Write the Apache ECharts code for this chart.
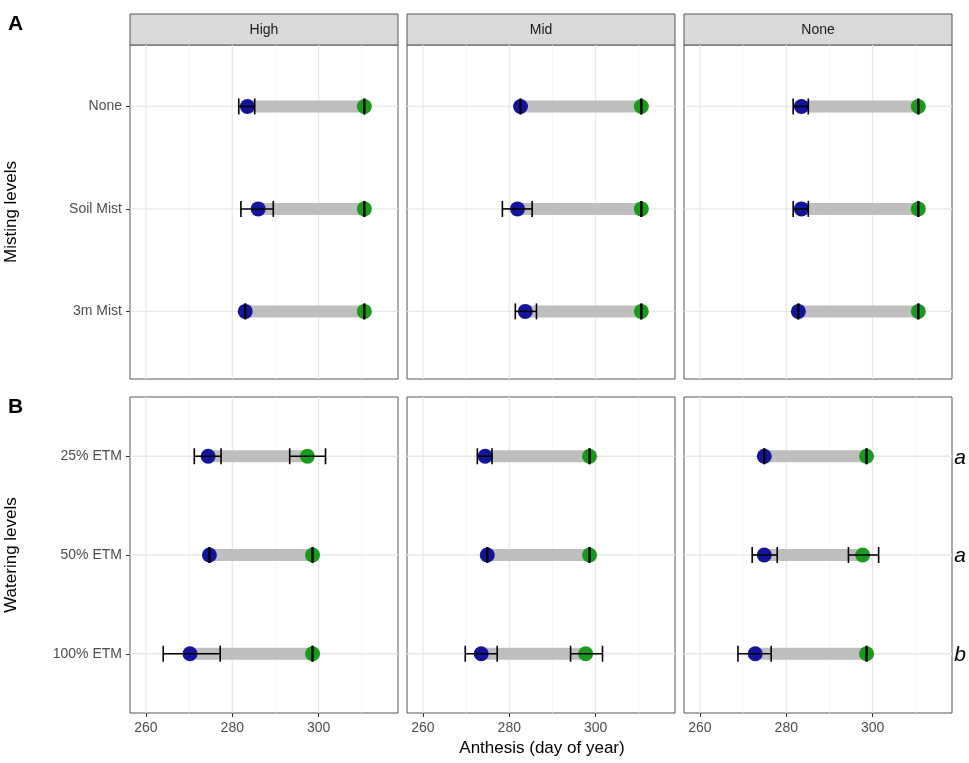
<!DOCTYPE html>
<html><head><meta charset="utf-8">
<script src="https://cdn.jsdelivr.net/npm/echarts@6/dist/echarts.min.js"></script>
<style>html,body{margin:0;padding:0;background:#fff}#c{width:969px;height:763px}</style>
</head><body><div id="c"></div>
<script>
var facets = ['High', 'Mid', 'None'];
var mistLevels = ['None', 'Soil Mist', '3m Mist'];
var waterLevels = ['25% ETM', '50% ETM', '100% ETM'];
var letters = ['a', 'a', 'b'];
// [blue mean, blue lo, blue hi, green mean, green lo, green hi] per level
var mistData = [
	[[283.5,281.5,285.2,310.6,310.5,310.7],[286,282,289.5,310.6,310.5,310.7],[283,282.9,283.1,310.6,310.5,310.7]],
	[[282.6,282.5,282.7,310.6,310.5,310.7],[281.9,278.4,285.3,310.6,310.5,310.7],[283.7,281.4,286.3,310.6,310.5,310.7]],
	[[283.5,281.6,285.1,310.6,310.5,310.7],[283.5,281.6,285.1,310.6,310.5,310.7],[282.8,282.7,282.9,310.6,310.5,310.7]]
];
var waterData = [
	[[274.4,271.2,277.4,297.4,293.3,301.6],[274.7,274.6,274.8,298.6,298.5,298.7],[270.2,264,277.2,298.6,298.5,298.7]],
	[[274.4,272.6,276,298.6,298.5,298.7],[274.9,274.8,275,298.6,298.5,298.7],[273.5,269.8,277.2,297.7,294.2,301.6]],
	[[274.9,274.8,275,298.6,298.5,298.7],[274.9,272.1,277.9,297.7,294.4,301.4],[272.8,268.8,276.5,298.6,298.5,298.7]]
];
var xTicks = [260, 280, 300];
var xMinor = [270, 290, 310];
var yTicks = [1, 2, 3];

var chart = echarts.init(document.getElementById('c'));
var colL = [130, 407, 684], colW = 268;
var rows = [{top: 45, h: 334, data: mistData, cats: mistLevels}, {top: 397, h: 316, data: waterData, cats: waterLevels}];
var grids = [], xAxes = [], yAxes = [], series = [], graphics = [];

rows.forEach(function(row, r){
	facets.forEach(function(f, c){
		var i = grids.length;
		grids.push({left: colL[c], top: row.top, width: colW, height: row.h, show: true, borderColor: '#555', borderWidth: 1, backgroundColor: '#fff'});
		xAxes.push({gridIndex: i, type: 'value', min: 256.3, max: 318.4,
			axisLine: {show: false}, splitLine: {show: false},
			axisTick: {show: r == 1, customValues: xTicks, length: 4, lineStyle: {color: '#333'}},
			axisLabel: {show: r == 1, customValues: xTicks, color: '#4d4d4d', fontSize: 14, fontFamily: 'Arial', margin: 8}});
		yAxes.push({gridIndex: i, type: 'value', min: 0.4, max: r == 0 ? 3.66 : 3.6, inverse: true,
			axisLine: {show: false}, splitLine: {show: false},
			axisTick: {show: c == 0, customValues: yTicks, length: 4, lineStyle: {color: '#333'}},
			axisLabel: {show: c == 0, customValues: yTicks, color: '#4d4d4d', fontSize: 14, fontFamily: 'Arial', formatter: function(v){ return row.cats[Math.round(v) - 1] || ''; }},
			name: c == 0 ? (r == 0 ? 'Misting levels' : 'Watering levels') : '', nameLocation: 'middle', nameGap: 110, nameRotate: 90,
			nameTextStyle: {fontSize: 17, color: '#000', fontFamily: 'Arial'}});
		// panel gridlines
		series.push({type: 'custom', xAxisIndex: i, yAxisIndex: i, data: [[0]], z: 1, silent: true,
			renderItem: function(params, api){
				var cs = params.coordSys, ch = [];
				xMinor.forEach(function(v){ var p = api.coord([v, 1]); ch.push({type: 'line', shape: {x1: p[0], y1: cs.y, x2: p[0], y2: cs.y + cs.height}, style: {stroke: '#f2f2f2', lineWidth: 0.8}}); });
				xTicks.forEach(function(v){ var p = api.coord([v, 1]); ch.push({type: 'line', shape: {x1: p[0], y1: cs.y, x2: p[0], y2: cs.y + cs.height}, style: {stroke: '#e8e8e8', lineWidth: 1.3}}); });
				yTicks.forEach(function(v){ var p = api.coord([260, v]); ch.push({type: 'line', shape: {x1: cs.x, y1: p[1], x2: cs.x + cs.width, y2: p[1]}, style: {stroke: '#e8e8e8', lineWidth: 1.3}}); });
				return {type: 'group', children: ch};
			}});
		var d = row.data[c].map(function(v, k){ return [k + 1].concat(v); });
		// grey segment
		series.push({type: 'custom', xAxisIndex: i, yAxisIndex: i, data: d, z: 2,
			renderItem: function(params, api){
				var y = api.value(0);
				var b = api.coord([api.value(1), y]), g = api.coord([api.value(4), y]);
				return {type: 'line', shape: {x1: b[0], y1: b[1], x2: g[0], y2: g[1]}, style: {stroke: '#bebebe', lineWidth: 12}};
			}});
		series.push({type: 'scatter', xAxisIndex: i, yAxisIndex: i, symbolSize: 15, z: 3,
			itemStyle: {color: '#14149b', opacity: 1}, data: row.data[c].map(function(v, k){ return [v[0], k + 1]; })});
		series.push({type: 'scatter', xAxisIndex: i, yAxisIndex: i, symbolSize: 15, z: 4,
			itemStyle: {color: '#1a9a1a', opacity: 1}, data: row.data[c].map(function(v, k){ return [v[3], k + 1]; })});
		// error bars on top
		series.push({type: 'custom', xAxisIndex: i, yAxisIndex: i, data: d, z: 5,
			renderItem: function(params, api){
				var y = api.value(0), ch = [];
				[[2, 3], [5, 6]].forEach(function(p){
					var lo = api.coord([api.value(p[0]), y]), hi = api.coord([api.value(p[1]), y]);
					ch.push({type: 'line', shape: {x1: lo[0], y1: lo[1], x2: hi[0], y2: hi[1]}, style: {stroke: '#000', lineWidth: 1.6}});
					ch.push({type: 'line', shape: {x1: lo[0], y1: lo[1] - 8, x2: lo[0], y2: lo[1] + 8}, style: {stroke: '#000', lineWidth: 1.6}});
					ch.push({type: 'line', shape: {x1: hi[0], y1: hi[1] - 8, x2: hi[0], y2: hi[1] + 8}, style: {stroke: '#000', lineWidth: 1.6}});
				});
				return {type: 'group', children: ch};
			}});
		if (r == 0) {
			graphics.push({type: 'rect', shape: {x: colL[c], y: 14, width: colW, height: 31}, style: {fill: '#d9d9d9', stroke: '#555', lineWidth: 1}});
			graphics.push({type: 'text', x: colL[c] + colW / 2, y: 30, style: {text: f, fill: '#1a1a1a', fontSize: 14, fontFamily: 'Arial', align: 'center', verticalAlign: 'middle'}});
		}
	});
});
graphics.push({type: 'text', left: 8, top: 14, style: {text: 'A', fontSize: 21, fontWeight: 'bold', fontFamily: 'Arial', fill: '#000'}});
graphics.push({type: 'text', left: 8, top: 397, style: {text: 'B', fontSize: 21, fontWeight: 'bold', fontFamily: 'Arial', fill: '#000'}});
graphics.push({type: 'text', x: 542, y: 748, style: {text: 'Anthesis (day of year)', fontSize: 17, fontFamily: 'Arial', fill: '#000', align: 'center', verticalAlign: 'middle'}});
[458, 556, 655].forEach(function(y, k){
	graphics.push({type: 'text', x: 960, y: y, style: {text: letters[k], fontSize: 21, fontStyle: 'italic', fontFamily: 'Arial', fill: '#000', align: 'center', verticalAlign: 'middle'}});
});

chart.setOption({animation: false, grid: grids, xAxis: xAxes, yAxis: yAxes, series: series, graphic: graphics});
</script></body></html>
